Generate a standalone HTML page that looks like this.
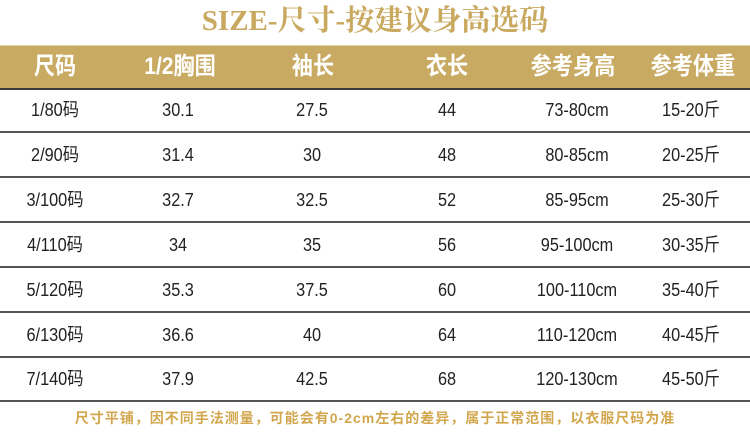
<!DOCTYPE html>
<html><head><meta charset="utf-8"><style>
body{margin:0;width:750px;height:434px;background:#fff;position:relative;overflow:hidden;font-family:"Liberation Sans","Noto Sans CJK SC",sans-serif}
.t{position:absolute;left:0;width:750px;top:2px;text-align:center;font:bold 29px "Liberation Serif","Noto Serif CJK SC",serif;color:#c9a95f;line-height:38px}
.hd{position:absolute;left:0;top:45px;width:750px;height:42px;background:#c8aa62;border-top:1px solid #e0d2a8;border-bottom:2px solid #3a3a3a}
.c{position:absolute;transform:translateX(-50%) scaleX(0.88);white-space:nowrap}
.hd .c{top:0;line-height:42px;color:#fff;font-weight:bold;font-size:24px}
.r{position:absolute;left:0;width:750px;height:43px;border-bottom:2px solid #555}
.r .c{line-height:43px;font-size:18.5px;color:#222}
.f{position:absolute;left:0;width:750px;top:408px;text-align:center;font-size:14px;color:#d2a64c;font-weight:bold;letter-spacing:1px}
</style></head><body>
<div class="t">SIZE-尺寸-按建议身高选码</div>
<div class="hd">
<span class="c" style="left:55px">尺码</span><span class="c" style="left:180px">1/2胸围</span><span class="c" style="left:313px">袖长</span><span class="c" style="left:447px">衣长</span><span class="c" style="left:573px">参考身高</span><span class="c" style="left:693px">参考体重</span>
</div>
<div class="r" style="top:88px"><span class="c" style="left:55px">1/80码</span><span class="c" style="left:178px">30.1</span><span class="c" style="left:312px">27.5</span><span class="c" style="left:447px">44</span><span class="c" style="left:577px">73-80cm</span><span class="c" style="left:691px">15-20斤</span></div>
<div class="r" style="top:133px"><span class="c" style="left:55px">2/90码</span><span class="c" style="left:178px">31.4</span><span class="c" style="left:312px">30</span><span class="c" style="left:447px">48</span><span class="c" style="left:577px">80-85cm</span><span class="c" style="left:691px">20-25斤</span></div>
<div class="r" style="top:178px"><span class="c" style="left:55px">3/100码</span><span class="c" style="left:178px">32.7</span><span class="c" style="left:312px">32.5</span><span class="c" style="left:447px">52</span><span class="c" style="left:577px">85-95cm</span><span class="c" style="left:691px">25-30斤</span></div>
<div class="r" style="top:223px"><span class="c" style="left:55px">4/110码</span><span class="c" style="left:178px">34</span><span class="c" style="left:312px">35</span><span class="c" style="left:447px">56</span><span class="c" style="left:577px">95-100cm</span><span class="c" style="left:691px">30-35斤</span></div>
<div class="r" style="top:268px"><span class="c" style="left:55px">5/120码</span><span class="c" style="left:178px">35.3</span><span class="c" style="left:312px">37.5</span><span class="c" style="left:447px">60</span><span class="c" style="left:577px">100-110cm</span><span class="c" style="left:691px">35-40斤</span></div>
<div class="r" style="top:313px"><span class="c" style="left:55px">6/130码</span><span class="c" style="left:178px">36.6</span><span class="c" style="left:312px">40</span><span class="c" style="left:447px">64</span><span class="c" style="left:577px">110-120cm</span><span class="c" style="left:691px">40-45斤</span></div>
<div class="r" style="top:357px"><span class="c" style="left:55px">7/140码</span><span class="c" style="left:178px">37.9</span><span class="c" style="left:312px">42.5</span><span class="c" style="left:447px">68</span><span class="c" style="left:577px">120-130cm</span><span class="c" style="left:691px">45-50斤</span></div>
<div class="f">尺寸平铺，因不同手法测量，可能会有0-2cm左右的差异，属于正常范围，以衣服尺码为准</div>
</body></html>
